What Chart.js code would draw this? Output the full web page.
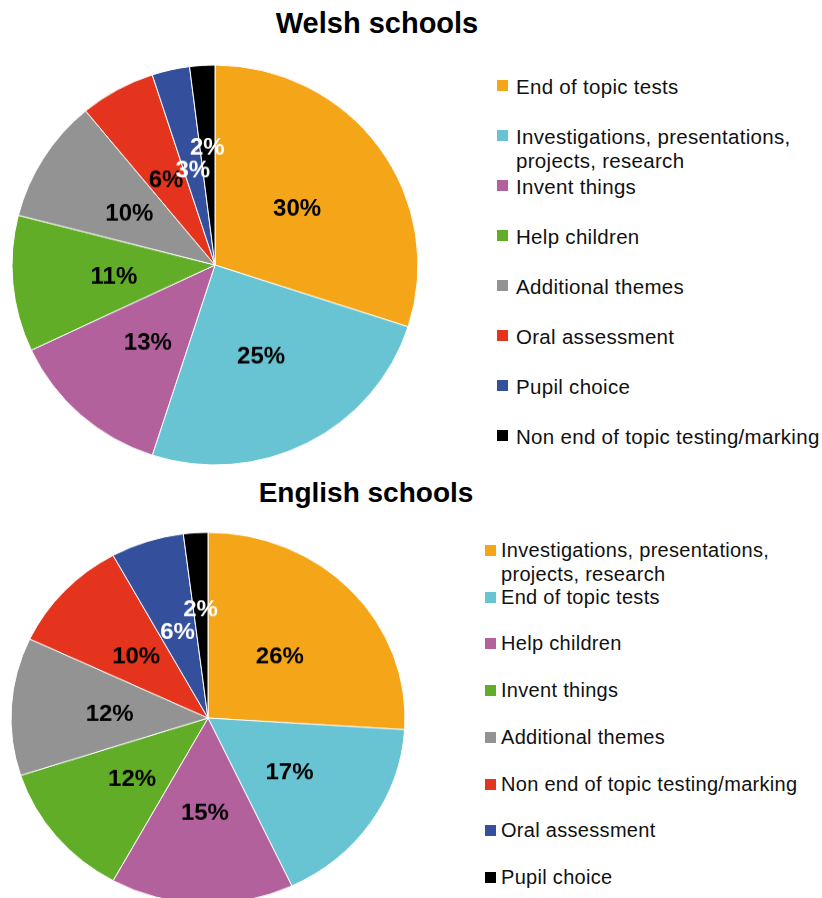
<!DOCTYPE html>
<html>
<head>
<meta charset="utf-8">
<script src="https://cdn.jsdelivr.net/npm/chart.js@4/dist/chart.umd.min.js"></script>
<style>
  html, body { margin: 0; padding: 0; background: #fff; }
  body { position: relative; width: 822px; height: 898px; overflow: hidden; font-family: "Liberation Sans", Arial, sans-serif; }
  .title { position: absolute; font-weight: bold; color: #000; white-space: nowrap; transform: translateX(-50%); line-height: 1; }
  canvas { position: absolute; }
  .leg { position: absolute; letter-spacing: 0.3px; color: #111; white-space: nowrap; }
  .leg .sw { position: absolute; width: 11px; height: 11px; }
</style>
</head>
<body>
<div class="title" id="t1" style="left:377px; top:9px; font-size:29px;">Welsh schools</div>
<div class="title" id="t2" style="left:366px; top:479px; font-size:28px;">English schools</div>
<canvas id="welsh" width="420" height="420" style="left:5px; top:55px; transform:scaleY(0.985);"></canvas>
<canvas id="english" width="410" height="410" style="left:3px; top:513px; transform:scaleY(0.942);"></canvas>
<div id="legWelsh"></div>
<div id="legEnglish"></div>
<script>
// Survey answers, percentage of responses per category
const welshLabels = [
  'End of topic tests',
  'Investigations, presentations,\nprojects, research',
  'Invent things',
  'Help children',
  'Additional themes',
  'Oral assessment',
  'Pupil choice',
  'Non end of topic testing/marking'
];
const welshValues = [30, 25, 13, 11, 10, 6, 3, 2];

const englishLabels = [
  'Investigations, presentations,\nprojects, research',
  'End of topic tests',
  'Help children',
  'Invent things',
  'Additional themes',
  'Non end of topic testing/marking',
  'Oral assessment',
  'Pupil choice'
];
const englishValues = [26, 17, 15, 12, 12, 10, 6, 2];

// Slice palette (same order for both pies) and label text colours
const sliceColors = ['#F4A518', '#68C3D3', '#B3619D', '#61AD27', '#939393', '#E4341D', '#34509D', '#000000'];
const welshLabelColors = ['#000', '#000', '#000', '#000', '#000', '#000', '#fff', '#fff'];
const englishLabelColors = ['#000', '#000', '#000', '#000', '#000', '#000', '#fff', '#fff'];

// Percentage labels drawn inside each slice
const sliceLabels = {
  id: 'sliceLabels',
  afterDatasetsDraw(chart, args, opts) {
    const ctx = chart.ctx;
    const meta = chart.getDatasetMeta(0);
    const values = chart.data.datasets[0].data;
    ctx.save();
    ctx.font = 'bold 24px "Liberation Sans", Arial, sans-serif';
    ctx.textAlign = 'center';
    ctx.textBaseline = 'middle';
    meta.data.forEach((arc, i) => {
      const p = arc.getProps(['x', 'y', 'startAngle', 'endAngle', 'outerRadius'], true);
      const mid = (p.startAngle + p.endAngle) / 2;
      const frac = i === values.length - 1 ? 0.6 : 0.5;
      const r = p.outerRadius * frac;
      ctx.fillStyle = opts.colors[i];
      // digits sit above the em-box middle, so nudge down to centre them visually
      ctx.fillText(values[i] + '%', p.x + Math.cos(mid) * r, p.y + Math.sin(mid) * r + 3);
    });
    ctx.restore();
  }
};

function makePie(id, labels, values, radius, labelColors) {
  return new Chart(document.getElementById(id), {
    type: 'pie',
    data: {
      labels: labels,
      datasets: [{
        data: values,
        backgroundColor: sliceColors,
        borderColor: '#ffffff',
        borderWidth: 1,
        hoverOffset: 0
      }]
    },
    options: {
      responsive: false,
      animation: false,
      events: [],
      radius: radius,
      layout: { padding: 0 },
      plugins: {
        legend: { display: false },
        tooltip: { enabled: false },
        title: { display: false },
        sliceLabels: { colors: labelColors }
      }
    },
    plugins: [sliceLabels]
  });
}

makePie('welsh', welshLabels, welshValues, 203, welshLabelColors);
makePie('english', englishLabels, englishValues, 197, englishLabelColors);

// Legends beside each pie
function buildLegend(containerId, labels, fontSize, left, top0, step, lineH, swLeft, swTop) {
  const box = document.getElementById(containerId);
  labels.forEach((text, i) => {
    const item = document.createElement('div');
    item.className = 'leg';
    item.style.fontSize = fontSize + 'px';
    item.style.left = left + 'px';
    item.style.top = (top0 + i * step) + 'px';
    item.style.lineHeight = lineH + 'px';
    text.split('\n').forEach((line, j) => {
      if (j > 0) item.appendChild(document.createElement('br'));
      item.appendChild(document.createTextNode(line));
    });
    const sw = document.createElement('span');
    sw.className = 'sw';
    sw.style.left = (swLeft - left) + 'px';
    sw.style.top = swTop + 'px';
    sw.style.background = sliceColors[i];
    item.appendChild(sw);
    box.appendChild(item);
  });
}

buildLegend('legWelsh', welshLabels, 20.5, 516, 75, 50, 24, 497, 5);
buildLegend('legEnglish', englishLabels, 20, 501, 539, 46.7, 23.5, 485, 6);
</script>
</body>
</html>
